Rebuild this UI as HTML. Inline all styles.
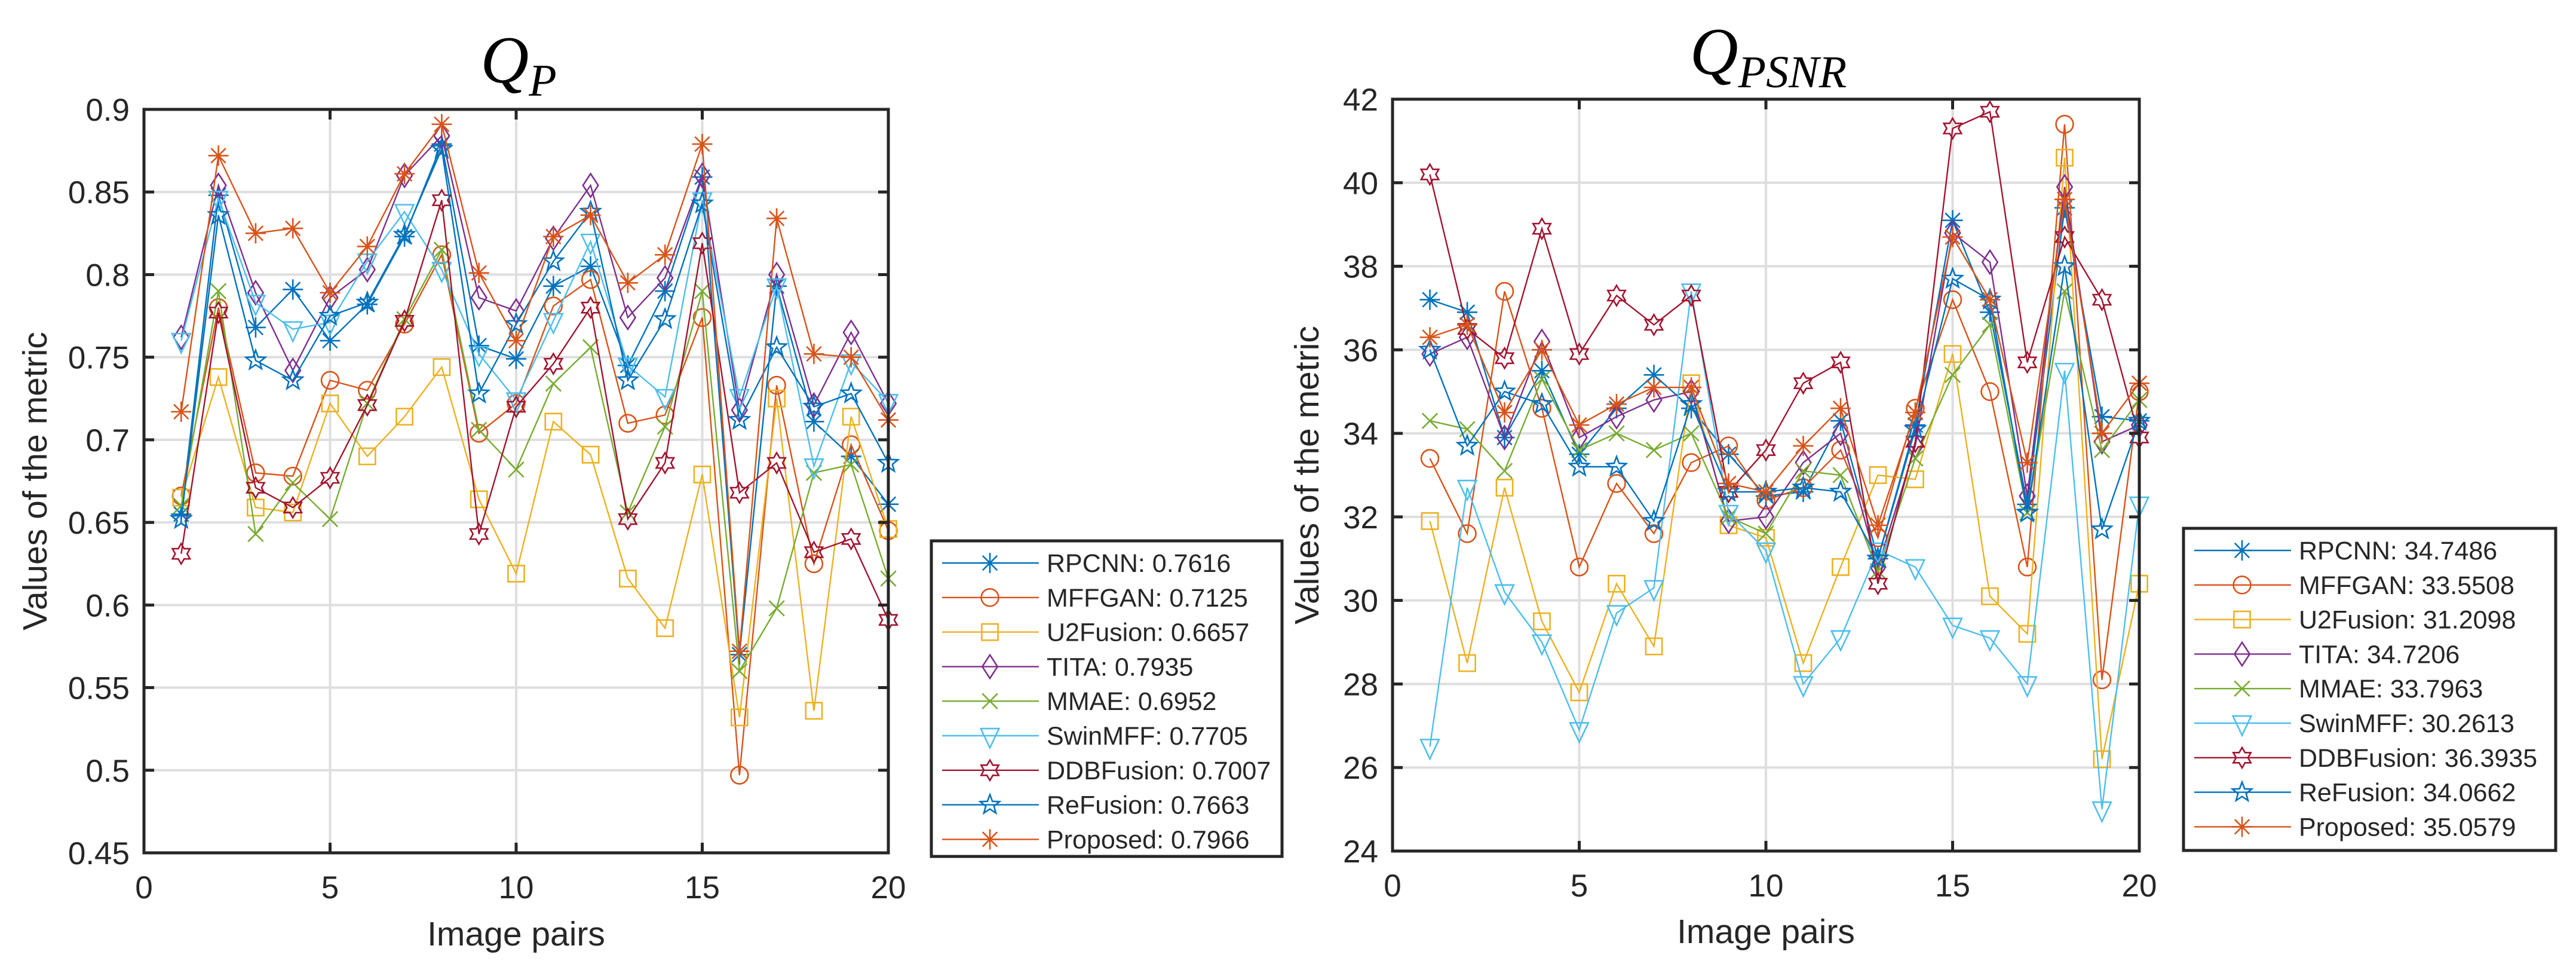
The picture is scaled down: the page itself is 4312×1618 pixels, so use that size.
<!DOCTYPE html>
<html><head><meta charset="utf-8"><style>
html,body{margin:0;padding:0;background:#fff;}
svg{display:block;}
text{font-family:"Liberation Sans",Arial,sans-serif;fill:#262626;}
</style></head><body>
<svg id="fig" width="4312" height="1618" viewBox="0 0 4312 1618" xmlns="http://www.w3.org/2000/svg">
<rect x="0" y="0" width="4312" height="1618" fill="#fff"/>
</svg>
<script>
const names = ["RPCNN","MFFGAN","U2Fusion","TITA","MMAE","SwinMFF","DDBFusion","ReFusion","Proposed"];
const qpMeans = ["0.7616","0.7125","0.6657","0.7935","0.6952","0.7705","0.7007","0.7663","0.7966"];
const psnrMeans = ["34.7486","33.5508","31.2098","34.7206","33.7963","30.2613","36.3935","34.0662","35.0579"];
const xTicks = [0,5,10,15,20];
const qpTicks = ["0.45","0.5","0.55","0.6","0.65","0.7","0.75","0.8","0.85","0.9"];
const psnrTicks = ["24","26","28","30","32","34","36","38","40","42"];

const qpRPCNN = [0.655,0.848,0.768,0.791,0.760,0.782,0.823,0.879,0.757,0.749,0.793,0.805,0.745,0.790,0.859,0.570,0.793,0.711,0.690,0.661];
const qpMFFGAN = [0.666,0.780,0.680,0.678,0.736,0.730,0.770,0.812,0.704,0.722,0.781,0.797,0.710,0.715,0.774,0.497,0.733,0.625,0.697,0.645];
const qpU2Fusion = [0.665,0.738,0.659,0.656,0.722,0.690,0.714,0.744,0.664,0.619,0.711,0.691,0.616,0.586,0.679,0.532,0.725,0.536,0.714,0.646];
const qpTITA = [0.762,0.854,0.789,0.742,0.786,0.803,0.860,0.884,0.786,0.778,0.822,0.854,0.774,0.798,0.860,0.718,0.800,0.721,0.765,0.722];
const qpMMAE = [0.660,0.790,0.643,0.674,0.652,0.722,0.773,0.815,0.706,0.682,0.734,0.756,0.656,0.708,0.790,0.560,0.598,0.680,0.685,0.616];
const qpSwinMFF = [0.760,0.846,0.783,0.767,0.771,0.808,0.838,0.803,0.752,0.724,0.772,0.820,0.745,0.726,0.845,0.726,0.793,0.684,0.747,0.723];
const qpDDBFusion = [0.631,0.777,0.671,0.659,0.677,0.721,0.772,0.845,0.643,0.720,0.746,0.780,0.652,0.686,0.819,0.668,0.686,0.632,0.640,0.591];
const qpReFusion = [0.652,0.836,0.748,0.736,0.775,0.783,0.824,0.876,0.728,0.770,0.808,0.838,0.736,0.773,0.843,0.712,0.756,0.720,0.728,0.686];
const qpProposed = [0.717,0.872,0.825,0.828,0.789,0.817,0.861,0.891,0.801,0.760,0.823,0.836,0.795,0.812,0.879,0.572,0.834,0.752,0.750,0.712];

const psRPCNN = [37.2,36.9,33.9,35.5,33.5,34.6,35.4,34.6,33.5,32.5,32.6,34.3,31.0,34.2,39.1,36.9,32.3,39.4,34.4,34.3];
const psMFFGAN = [33.4,31.6,37.4,34.6,30.8,32.8,31.6,33.3,33.7,32.4,32.7,33.6,31.5,34.6,37.2,35.0,30.8,41.4,28.1,35.0];
const psU2Fusion = [31.9,28.5,32.7,29.5,27.8,30.4,28.9,35.2,31.8,31.5,28.5,30.8,33.0,32.9,35.9,30.1,29.2,40.6,26.2,30.4];
const psTITA = [35.9,36.3,33.9,36.2,33.9,34.4,34.8,35.0,31.9,32.0,33.3,34.0,30.8,33.7,38.8,38.1,32.5,39.9,33.8,34.2];
const psMMAE = [34.3,34.1,33.1,35.3,33.6,34.0,33.6,34.0,32.0,31.6,33.1,33.0,30.7,33.4,35.4,36.6,32.1,37.4,33.6,34.8];
const psSwinMFF = [26.5,32.7,30.2,29.0,26.9,29.7,30.3,37.4,32.1,31.2,28.0,29.1,31.2,30.8,29.4,29.1,28.0,35.5,25.0,32.3];
const psDDBFusion = [40.2,36.5,35.8,38.9,35.9,37.3,36.6,37.3,32.6,33.6,35.2,35.7,30.4,33.8,41.3,41.7,35.7,38.7,37.2,33.9];
const psReFusion = [36.0,33.7,35.0,34.7,33.2,33.2,31.9,34.7,32.6,32.6,32.7,32.6,31.0,34.1,37.7,37.2,32.1,38.0,31.7,34.3];
const psProposed = [36.3,36.6,34.5,36.0,34.2,34.7,35.1,35.1,32.8,32.6,33.7,34.6,31.8,34.5,38.7,37.2,33.3,39.6,34.0,35.2];

const qpSeries = [qpRPCNN,qpMFFGAN,qpU2Fusion,qpTITA,qpMMAE,qpSwinMFF,qpDDBFusion,qpReFusion,qpProposed];
const psSeries = [psRPCNN,psMFFGAN,psU2Fusion,psTITA,psMMAE,psSwinMFF,psDDBFusion,psReFusion,psProposed];

const colors = ["#0072BD","#D95319","#EDB120","#7E2F8E","#77AC30","#4DBEEE","#A2142F","#0072BD","#D95319"];
const markers = ["asterisk","circle","square","diamond","x","tridown","hexagram","pentagram","asterisk"];

const NS="http://www.w3.org/2000/svg";
const svg=document.getElementById('fig');
function el(tag,attrs,parent){const e=document.createElementNS(NS,tag);for(const k in attrs)e.setAttribute(k,attrs[k]);(parent||svg).appendChild(e);return e;}

function markerShape(g,type,cx,cy,color,r){
  const sw=2.6;
  let m;
  if(type==="asterisk"){
    m=el('path',{d:`M${cx-r},${cy}H${cx+r}M${cx},${cy-r}V${cy+r}M${cx-r*0.72},${cy-r*0.72}L${cx+r*0.72},${cy+r*0.72}M${cx-r*0.72},${cy+r*0.72}L${cx+r*0.72},${cy-r*0.72}`,stroke:color,'stroke-width':sw,fill:'none'},g);
  } else if(type==="x"){
    m=el('path',{d:`M${cx-r*0.75},${cy-r*0.75}L${cx+r*0.75},${cy+r*0.75}M${cx-r*0.75},${cy+r*0.75}L${cx+r*0.75},${cy-r*0.75}`,stroke:color,'stroke-width':sw,fill:'none'},g);
  } else if(type==="circle"){
    m=el('circle',{cx:cx,cy:cy,r:r*0.85,stroke:color,'stroke-width':sw,fill:'none'},g);
  } else if(type==="square"){
    const s=r*0.8;m=el('rect',{x:cx-s,y:cy-s,width:2*s,height:2*s,stroke:color,'stroke-width':sw,fill:'none'},g);
  } else if(type==="diamond"){
    m=el('path',{d:`M${cx},${cy-r*1.15}L${cx+r*0.75},${cy}L${cx},${cy+r*1.15}L${cx-r*0.75},${cy}Z`,stroke:color,'stroke-width':sw,fill:'none'},g);
  } else if(type==="tridown"){
    m=el('path',{d:`M${cx-r*0.9},${cy-r*0.7}L${cx+r*0.9},${cy-r*0.7}L${cx},${cy+r*1.2}Z`,stroke:color,'stroke-width':sw,fill:'none'},g);
  } else if(type==="hexagram"){
    let p=[];for(let i=0;i<12;i++){const a=-Math.PI/2+i*Math.PI/6;const rr=i%2?r*0.58:r;p.push((cx+rr*Math.cos(a)).toFixed(1)+','+(cy+rr*Math.sin(a)).toFixed(1));}
    m=el('polygon',{points:p.join(' '),stroke:color,'stroke-width':sw,fill:'none'},g);
  } else if(type==="pentagram"){
    let p=[];for(let i=0;i<10;i++){const a=-Math.PI/2+i*Math.PI/5;const rr=i%2?r*0.42:r;p.push((cx+rr*Math.cos(a)).toFixed(1)+','+(cy+rr*Math.sin(a)).toFixed(1));}
    m=el('polygon',{points:p.join(' '),stroke:color,'stroke-width':sw,fill:'none'},g);
  }
  return m;
}

function drawChart(cfg){
  const g=el('g',{});
  
  
  const X=v=>cfg.x0+(v-0)/(20-0)*(cfg.x1-cfg.x0);
  const Y=v=>cfg.y1-(v-cfg.ymin)/(cfg.ymax-cfg.ymin)*(cfg.y1-cfg.y0);
  // grid
  const grid=el('g',{},g);
  
  
  xTicks.forEach(t=>{ if(t>0&&t<20) el('line',{x1:X(t),x2:X(t),y1:cfg.y0,y2:cfg.y1,stroke:'#dedede','stroke-width':4},grid);});
  cfg.ticks.forEach(t=>{const v=parseFloat(t); if(v>cfg.ymin&&v<cfg.ymax) el('line',{x1:cfg.x0,x2:cfg.x1,y1:Y(v),y2:Y(v),stroke:'#dedede','stroke-width':4},grid);});
  // series
  cfg.series.forEach((vals,si)=>{
    const sg=el('g',{},g);
    
    
    const pts=vals.map((v,i)=>X(i+1).toFixed(1)+','+Y(v).toFixed(1)).join(' ');
    el('polyline',{points:pts,stroke:colors[si],'stroke-width':2.4,fill:'none'},sg);
    vals.forEach((v,i)=>{
      const m=markerShape(sg,markers[si],X(i+1),Y(v),colors[si],17);
      
      
    });
  });
  // axes box
  const box=el('rect',{x:cfg.x0,y:cfg.y0,width:cfg.x1-cfg.x0,height:cfg.y1-cfg.y0,fill:'none',stroke:'#262626','stroke-width':5},g);
  
  
  const tl=17;
  xTicks.forEach(t=>{
    el('line',{x1:X(t),x2:X(t),y1:cfg.y1,y2:cfg.y1-tl,stroke:'#262626','stroke-width':5},g);
    el('line',{x1:X(t),x2:X(t),y1:cfg.y0,y2:cfg.y0+tl,stroke:'#262626','stroke-width':5},g);
    const tx=el('text',{x:X(t),y:cfg.y1+76,'font-size':53,'text-anchor':'middle'},g);
    tx.textContent=t;
    
    
  });
  cfg.ticks.forEach(t=>{
    const v=parseFloat(t);
    el('line',{x1:cfg.x0,x2:cfg.x0+tl,y1:Y(v),y2:Y(v),stroke:'#262626','stroke-width':5},g);
    el('line',{x1:cfg.x1,x2:cfg.x1-tl,y1:Y(v),y2:Y(v),stroke:'#262626','stroke-width':5},g);
    const ty=el('text',{x:cfg.x0-24,y:Y(v)+19,'font-size':53,'text-anchor':'end'},g);
    ty.textContent=t;
    
    
  });
  // axis labels
  const xl=el('text',{x:(cfg.x0+cfg.x1)/2,y:cfg.xlabY,'font-size':57,'text-anchor':'middle'},g);
  xl.textContent='Image pairs';
  
  
  const ycx=cfg.ylabX, ycy=(cfg.y0+cfg.y1)/2;
  const yl=el('text',{x:ycx,y:ycy,'font-size':57,'text-anchor':'middle',transform:`rotate(-90 ${ycx} ${ycy})`},g);
  yl.textContent='Values of the metric';
  
  
  // title
  const tt=el('text',{x:cfg.titleX,y:cfg.titleY,'font-size':112,'text-anchor':'middle',style:'font-family:"Liberation Serif",serif;font-style:italic;fill:#000'},g);
  const t1=el('tspan',{},tt);t1.textContent='Q';
  const t2=el('tspan',{'font-size':76,dy:22},tt);t2.textContent=cfg.sub;
  
  
  // legend
  const lg=el('g',{},g);
  
  
  el('rect',{x:cfg.lx0,y:cfg.ly0,width:cfg.lx1-cfg.lx0,height:cfg.ly1-cfg.ly0,fill:'#fff',stroke:'#262626','stroke-width':5},lg);
  names.forEach((n,i)=>{
    const ry=cfg.ly0+37+i*57.8;
    const eg=el('g',{},lg);
    
    
    el('line',{x1:cfg.lx0+18,x2:cfg.lx0+180,y1:ry,y2:ry,stroke:colors[i],'stroke-width':2.4},eg);
    markerShape(eg,markers[i],cfg.lx0+98,ry,colors[i],17);
    const lt=el('text',{x:cfg.lx0+193,y:ry+15,'font-size':43},eg);
    lt.textContent=n+': '+cfg.means[i];
  });
}

drawChart({id:'qp',x0:241,x1:1487,y0:183,y1:1427,ymin:0.45,ymax:0.9,ticks:qpTicks,series:qpSeries,means:qpMeans,
  sub:'P',titleX:868,titleY:138,xlabY:1582,ylabX:78,lx0:1559,lx1:2146,ly0:905,ly1:1433});
drawChart({id:'psnr',x0:2331,x1:3581,y0:166,y1:1424,ymin:24,ymax:42,ticks:psnrTicks,series:psSeries,means:psnrMeans,
  sub:'PSNR',titleX:2960,titleY:124,xlabY:1578,ylabX:2207,lx0:3655,lx1:4278,ly0:884,ly1:1423});
</script>
</body></html>
